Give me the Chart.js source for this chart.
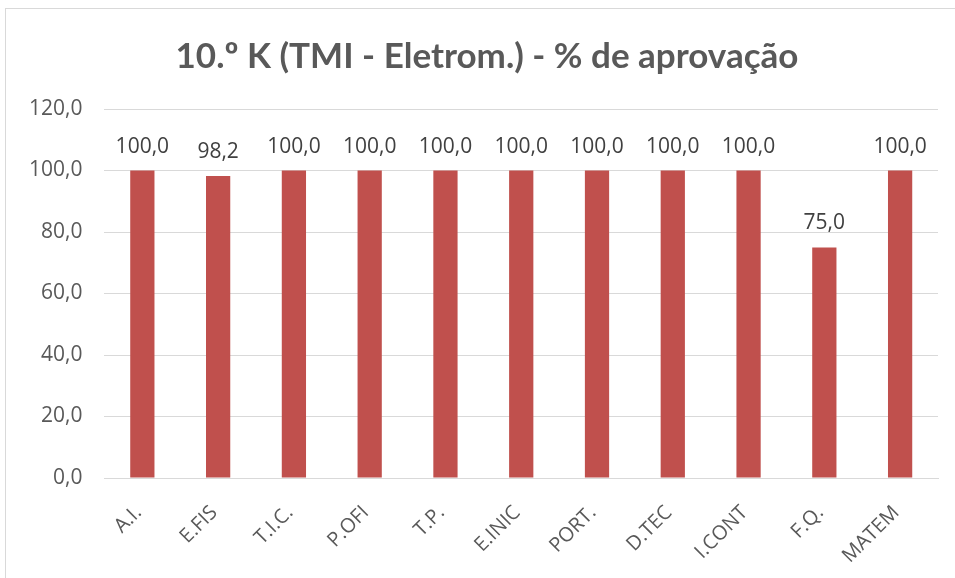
<!DOCTYPE html>
<html>
<head>
<meta charset="utf-8">
<script src="https://cdn.jsdelivr.net/npm/chart.js@4"></script>
<style>
  html, body { margin: 0; padding: 0; background: #fff; }
  #frame { position: absolute; left: 5px; top: 8px; width: 960px; height: 600px; border: 1px solid #d9d9d9; }
  #wrap { position: absolute; left: 0; top: 0; width: 955px; height: 578px; }
</style>
</head>
<body>
<div id="frame"></div>
<div id="wrap"><canvas id="chart"></canvas></div>
<script>
const categories = ['A.I.', 'E.FIS', 'T.I.C.', 'P.OFI', 'T.P.', 'E.INIC', 'PORT.', 'D.TEC', 'I.CONT', 'F.Q.', 'MATEM'];
const approval = [100, 98.2, 100, 100, 100, 100, 100, 100, 100, 75, 100];
const yTicks = [0, 20, 40, 60, 80, 100, 120];
const chartTitle = '10.º K (TMI - Eletrom.) - % de aprovação';

const fmt = v => v.toFixed(1).replace('.', ',');

// labels above each bar
const barLabels = {
    id: 'barLabels',
    afterDatasetsDraw(chart) {
        const ctx = chart.ctx;
        const meta = chart.getDatasetMeta(0);
        ctx.save();
        ctx.font = '21px "Open Sans"';
        ctx.fillStyle = '#404040';
        ctx.textAlign = 'center';
        ctx.textBaseline = 'alphabetic';
        meta.data.forEach((bar, i) => {
            ctx.fillText(fmt(approval[i]), bar.x, bar.y - 18);
        });
        ctx.restore();
    }
};

// title centred on the whole frame, like the original
const frameTitle = {
    id: 'frameTitle',
    afterDraw(chart) {
        const ctx = chart.ctx;
        ctx.save();
        ctx.font = 'bold 35px Lato';
        ctx.fillStyle = '#595959';
        ctx.textAlign = 'center';
        ctx.textBaseline = 'middle';
        ctx.fillText(chartTitle, 487, 57);
        ctx.restore();
    }
};

function draw() {
    new Chart(document.getElementById('chart').getContext('2d'), {
        type: 'bar',
        data: {
            labels: categories,
            datasets: [{
                data: approval,
                backgroundColor: '#c0504d',
                categoryPercentage: 1,
                barPercentage: 0.32
            }]
        },
        options: {
            responsive: true,
            maintainAspectRatio: false,
            animation: false,
            layout: { padding: { left: 7, right: 17, top: 109, bottom: -5 } },
            plugins: {
                legend: { display: false },
                tooltip: { enabled: false },
                title: { display: false }
            },
            scales: {
                x: {
                    grid: { display: false },
                    border: { color: '#d9d9d9', width: 1 },
                    ticks: {
                        color: '#595959',
                        font: { family: 'Open Sans', size: 20 },
                        maxRotation: 45,
                        minRotation: 45,
                        padding: 15,
                        labelOffset: -4
                    }
                },
                y: {
                    min: 0,
                    max: 120,
                    afterBuildTicks: axis => { axis.ticks = yTicks.map(v => ({ value: v })); },
                    grid: { color: '#d9d9d9', lineWidth: 1, drawTicks: false },
                    border: { display: false },
                    ticks: {
                        color: '#595959',
                        font: { family: 'Open Sans', size: 21 },
                        padding: 22,
                        callback: v => fmt(v)
                    }
                }
            }
        },
        plugins: [barLabels, frameTitle]
    });
}

Promise.all([
    document.fonts.load('20px "Open Sans"'),
    document.fonts.load('21px "Open Sans"'),
    document.fonts.load('bold 35px Lato')
]).then(draw, draw);
</script>
</body>
</html>
